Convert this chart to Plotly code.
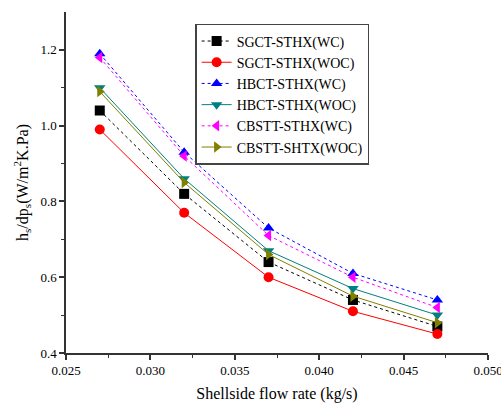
import plotly.graph_objects as go

flow = [0.027, 0.032, 0.037, 0.042, 0.047]
sgct_wc = [1.04, 0.82, 0.64, 0.54, 0.47]
sgct_woc = [0.99, 0.77, 0.60, 0.51, 0.45]
hbct_wc = [1.19, 0.93, 0.73, 0.61, 0.54]
hbct_woc = [1.10, 0.86, 0.67, 0.57, 0.50]
cbstt_wc = [1.18, 0.92, 0.71, 0.60, 0.52]
cbstt_woc = [1.09, 0.85, 0.66, 0.55, 0.48]

x_ticks = [0.025, 0.030, 0.035, 0.040, 0.045, 0.050]
x_labels = ["0.025", "0.030", "0.035", "0.040", "0.045", "0.050"]
y_ticks = [0.4, 0.6, 0.8, 1.0, 1.2]
y_labels = ["0.4", "0.6", "0.8", "1.0", "1.2"]

series = [
    ("SGCT-STHX(WC)", sgct_wc, "black", "square", "dot"),
    ("SGCT-STHX(WOC)", sgct_woc, "red", "circle", "solid"),
    ("HBCT-STHX(WC)", hbct_wc, "blue", "triangle-up", "dot"),
    ("HBCT-STHX(WOC)", hbct_woc, "#008080", "triangle-down", "solid"),
    ("CBSTT-STHX(WC)", cbstt_wc, "magenta", "triangle-left", "dot"),
    ("CBSTT-SHTX(WOC)", cbstt_woc, "#808000", "triangle-right", "solid"),
]

fig = go.Figure()
for name, ys, col, sym, dash in series:
    fig.add_trace(go.Scatter(
        x=flow, y=ys, name=name, mode="lines+markers",
        line=dict(color=col, width=1, dash=dash),
        marker=dict(symbol=sym, color=col, size=10),
    ))

font = "Liberation Serif"
fig.update_layout(
    width=501, height=405,
    margin=dict(l=66, r=13, t=12, b=52),
    plot_bgcolor="white", paper_bgcolor="white",
    font=dict(family=font, size=13, color="black"),
    legend=dict(x=0.306, y=0.965, xanchor="left", yanchor="top",
                bordercolor="#444", borderwidth=1.5, bgcolor="white",
                font=dict(family=font, size=14), tracegroupgap=0,
                itemwidth=30),
    xaxis=dict(range=[0.025, 0.05], tickvals=x_ticks, ticktext=x_labels,
               ticklabeloverflow="allow", automargin=False,
               showgrid=False, zeroline=False, showline=True, linecolor="#333", linewidth=1.5,
               ticks="outside", ticklen=5, tickwidth=1.5, tickcolor="#333",
               minor=dict(tickvals=[0.0275, 0.0325, 0.0375, 0.0425, 0.0475], ticks="outside", ticklen=3, tickwidth=1.2, tickcolor="#333"),
               title=dict(text="Shellside flow rate (kg/s)", font=dict(family=font, size=16), standoff=10),
               tickfont=dict(family=font, size=13)),
    yaxis=dict(range=[0.4, 1.3], tickvals=y_ticks, ticktext=y_labels,
               ticklabeloverflow="allow", automargin=False,
               showgrid=False, zeroline=False, showline=True, linecolor="#333", linewidth=1.5,
               ticks="outside", ticklen=5, tickwidth=1.5, tickcolor="#333",
               minor=dict(tickvals=[0.5, 0.7, 0.9, 1.1], ticks="outside", ticklen=3, tickwidth=1.2, tickcolor="#333"),
               title=dict(text="h<sub>s</sub>/dp<sub>s</sub>(W/m<sup>2</sup>K.Pa)", font=dict(family=font, size=16), standoff=8),
               tickfont=dict(family=font, size=13)),
)

fig.write_html("out.html")
